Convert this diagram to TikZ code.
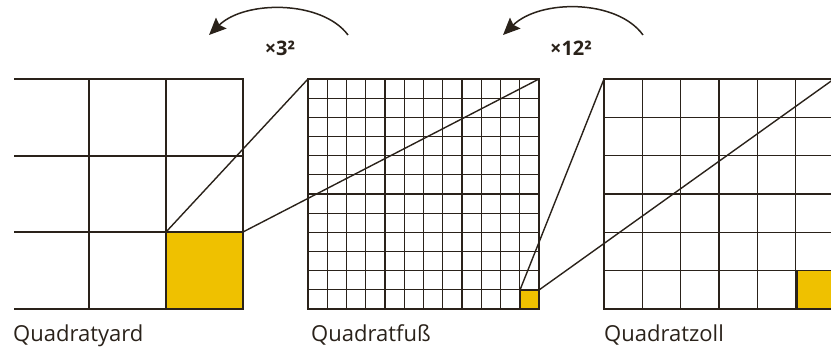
\documentclass[tikz,border=0pt]{standalone}
\usepackage{fontspec}
\setmainfont{Open Sans}
\usetikzlibrary{arrows.meta}
\definecolor{ink}{HTML}{2A221A}
\definecolor{gold}{HTML}{EFC100}
\tikzset{
  gridline/.style={draw=ink, line width=1.25pt},
  frame/.style={draw=ink, line width=1.6pt},
  link/.style={draw=ink, line width=1.4pt},
  curvedarrow/.style={draw=ink, line width=1.5pt, -{Stealth[length=17pt,width=15pt,inset=2.5pt]}},
  caption/.style={anchor=base west, inner sep=0pt, font=\fontsize{22}{26}\selectfont, text=ink},
  factor/.style={anchor=center, inner sep=0pt, font=\bfseries\fontsize{20}{24}\selectfont, text=ink}
}
\begin{document}
\begin{tikzpicture}[x=1pt,y=-1pt]
\useasboundingbox (0,0) rectangle (831,352);
\begin{scope}
\clip (0,0) rectangle (831,352);
% yellow cells
\fill[gold] (166,232) rectangle (243,309);
\fill[gold] (520,290) rectangle (539,309);
\fill[gold] (796.7,270.7) rectangle (835,309);
% yard grid (open on the left)
\foreach \y in {156,232} \draw[gridline] (14,\y) -- (243,\y);
\foreach \x in {89,166} \draw[gridline] (\x,79) -- (\x,309);
\draw[frame] (14,79) -- (243,79) -- (243,309) -- (14,309);
\draw[frame] (166,232) rectangle (243,309);
% foot grid
\foreach \k in {1,...,11} {
  \draw[gridline] ({308+\k*19.25},79) -- ({308+\k*19.25},309);
  \draw[gridline] (308,{79+\k*19.1667}) -- (539,{79+\k*19.1667});
}
\draw[frame] (308,79) rectangle (539,309);
\draw[frame] (520,290) rectangle (539,309);
% inch grid
\foreach \k in {1,...,5} {
  \draw[gridline] ({604+\k*38.33},79) -- ({604+\k*38.33},309);
  \draw[gridline] (604,{79+\k*38.33}) -- (840,{79+\k*38.33});
}
\draw[frame] (840,79) -- (604,79) -- (604,309) -- (840,309);
\draw[frame] (796.7,270.7) rectangle (834.9,309);
\end{scope}
% named corners
\coordinate (yTL) at (166,232);
\coordinate (yTR) at (243,232);
\coordinate (fTL) at (308,79);
\coordinate (fTR) at (539,79);
\coordinate (fyTL) at (520,290);
\coordinate (fyTR) at (539,290);
\coordinate (iTL) at (604,79);
\coordinate (iTR) at (834,79);
\begin{scope}
\clip (0,0) rectangle (831,352);
\draw[link] (yTL) -- (fTL);
\draw[link] (yTR) -- (fTR);
\draw[link] (fyTL) -- (iTL);
\draw[link] (fyTR) -- (iTR);
\end{scope}
% arrows
\coordinate (a1s) at (348,35);
\coordinate (a1e) at (209,35);
\coordinate (a2s) at (643,35);
\coordinate (a2e) at (503,35);
\draw[curvedarrow] (a1s) .. controls (322,0) and (245,0) .. (a1e);
\draw[curvedarrow] (a2s) .. controls (617,-1) and (540,-1) .. (a2e);
\node[factor] (f1) at (280,48) {×3²};
\node[factor] (f2) at (571,48) {×12²};
% captions
\node[caption] (c1) at (13,342) {Quadratyard};
\node[caption] (c2) at (311,342) {Quadratfuß};
\node[caption] (c3) at (604,342) {Quadratzoll};
\end{tikzpicture}
\end{document}
